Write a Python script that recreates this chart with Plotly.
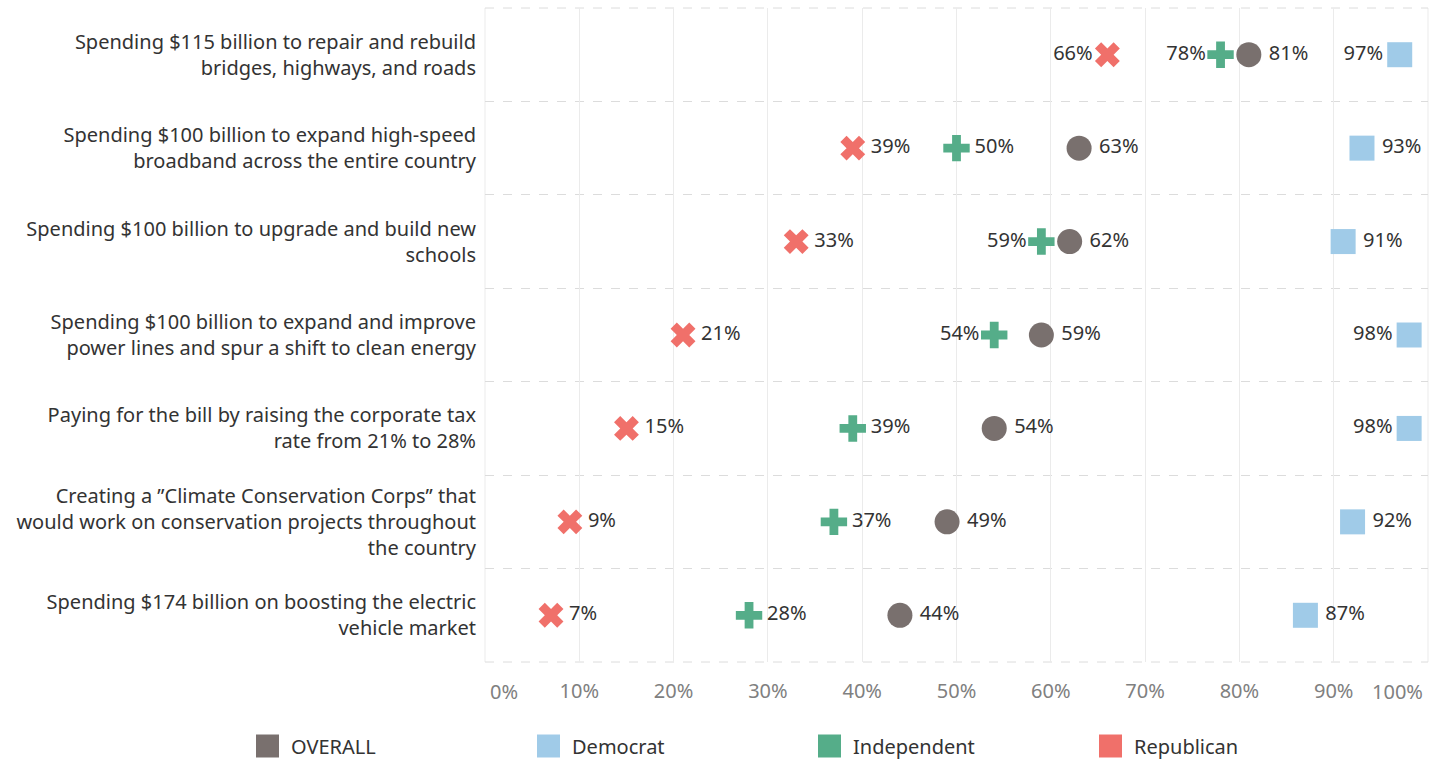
import plotly.graph_objects as go

categories = [
    "Spending $115 billion to repair and rebuild<br>bridges, highways, and roads",
    "Spending $100 billion to expand high-speed<br>broadband across the entire country",
    "Spending $100 billion to upgrade and build new<br>schools",
    "Spending $100 billion to expand and improve<br>power lines and spur a shift to clean energy",
    "Paying for the bill by raising the corporate tax<br>rate from 21% to 28%",
    "Creating a \u201dClimate Conservation Corps\u201d that<br>would work on conservation projects throughout<br>the country",
    "Spending $174 billion on boosting the electric<br>vehicle market",
]
overall = [81, 63, 62, 59, 54, 49, 44]
democrat = [97, 93, 91, 98, 98, 92, 87]
independent = [78, 50, 59, 54, 39, 37, 28]
republican = [66, 39, 33, 21, 15, 9, 7]
series_names = ["OVERALL", "Democrat", "Independent", "Republican"]
x_ticks = [0, 10, 20, 30, 40, 50, 60, 70, 80, 90, 100]
x_tick_labels = ["0%", "10%", "20%", "30%", "40%", "50%", "60%", "70%", "80%", "90%", "100%"]

# styling
FONT = "Noto Sans"
FS = 20
TICK_COLOR = "#808080"
colors = {"OVERALL": "#79706e", "Democrat": "#a0cbe8", "Independent": "#55ad89", "Republican": "#f0706a"}
symbols = {"OVERALL": "circle", "Democrat": "square", "Independent": "cross", "Republican": "x"}
sizes = {"OVERALL": 25, "Democrat": 25, "Independent": 22, "Republican": 22}
R, L = "middle right", "middle left"
text_pos = {
    "OVERALL": [R] * 7,
    "Democrat": [L, R, R, L, L, R, R],
    "Independent": [L, R, L, L, R, R, R],
    "Republican": [L, R, R, R, R, R, R],
}
values = {"OVERALL": overall, "Democrat": democrat, "Independent": independent, "Republican": republican}

ys = list(range(len(categories)))
fig = go.Figure()
for name in ["Republican", "Independent", "OVERALL", "Democrat"]:
    vals = values[name]
    fig.add_trace(go.Scatter(
        x=vals, y=ys, mode="markers+text", name=name, showlegend=False,
        text=[(f"\u2009{v}%" if p == R else f"{v}%") for v, p in zip(vals, text_pos[name])],
        textposition=text_pos[name],
        textfont=dict(family=FONT, size=FS, color="#333333"),
        marker=dict(symbol=symbols[name], size=sizes[name], color=colors[name], line=dict(width=0)),
        hoverinfo="skip", cliponaxis=False,
    ))

W, H = 1440, 760
ml, mr, mt, mb = 485, 12, 8, 98
pw, ph = W - ml - mr, H - mt - mb

fig.update_layout(
    width=W, height=H, margin=dict(l=ml, r=mr, t=mt, b=mb, autoexpand=False),
    plot_bgcolor="white", paper_bgcolor="white",
    font=dict(family=FONT, size=FS, color="#333333"),
    xaxis=dict(range=[0, 100], tickvals=x_ticks,
               ticktext=[t if 0 < v < 100 else "" for v, t in zip(x_ticks, x_tick_labels)],
               showgrid=True, gridcolor="#ebebeb", gridwidth=1, zeroline=False, showline=False,
               tickfont=dict(family=FONT, size=FS, color=TICK_COLOR), ticklabelstandoff=15),
    yaxis=dict(range=[len(categories) - 0.5, -0.5], tickvals=ys, ticktext=categories,
               showgrid=False, zeroline=False, showline=False,
               tickfont=dict(family=FONT, size=FS, color="#333333"), ticklabelstandoff=8,
               minor=dict(tickvals=[i - 0.5 for i in range(len(categories) + 1)], showgrid=True,
                          gridcolor="#dcdcdc", griddash="dash", gridwidth=1, ticks="")),
)

# plot frame: solid vertical edges, dashed horizontal edges
for xv in (0, 1):
    fig.add_shape(type="line", xref="paper", yref="paper", x0=xv, x1=xv, y0=0, y1=1,
                  line=dict(color="#ebebeb", width=1), layer="below")
for yv in (0, 1):
    fig.add_shape(type="line", xref="paper", yref="paper", x0=0, x1=1, y0=yv, y1=yv,
                  line=dict(color="#dcdcdc", width=1, dash="dash"), layer="below")

# edge tick labels shifted inward
fig.add_annotation(x=x_ticks[0], y=0, xref="x", yref="paper", text=x_tick_labels[0], showarrow=False,
                   xanchor="left", yanchor="middle", xshift=3, yshift=-29,
                   font=dict(family=FONT, size=FS, color=TICK_COLOR))
fig.add_annotation(x=x_ticks[-1], y=0, xref="x", yref="paper", text=x_tick_labels[-1], showarrow=False,
                   xanchor="right", yanchor="middle", xshift=-3, yshift=-29,
                   font=dict(family=FONT, size=FS, color=TICK_COLOR))

# custom legend
leg_x0 = 256
leg_step = 281
leg_yc = 746
sq = 23
for i, name in enumerate(series_names):
    x0 = leg_x0 + i * leg_step
    fig.add_shape(type="rect", xref="paper", yref="paper",
                  x0=(x0 - ml) / pw, x1=(x0 + sq - ml) / pw,
                  y0=(H - mb - (leg_yc + sq / 2)) / ph, y1=(H - mb - (leg_yc - sq / 2)) / ph,
                  fillcolor=colors[name], line=dict(width=0))
    fig.add_annotation(x=(x0 + sq + 10 - ml) / pw, y=(H - mb - leg_yc) / ph, xref="paper", yref="paper",
                       text=name, showarrow=False, xanchor="left", yanchor="middle",
                       font=dict(family=FONT, size=FS, color="#333333"))

fig.write_html("out.html", config={"displayModeBar": False},
               post_script="document.body.style.margin='0';document.body.style.overflow='hidden';")
